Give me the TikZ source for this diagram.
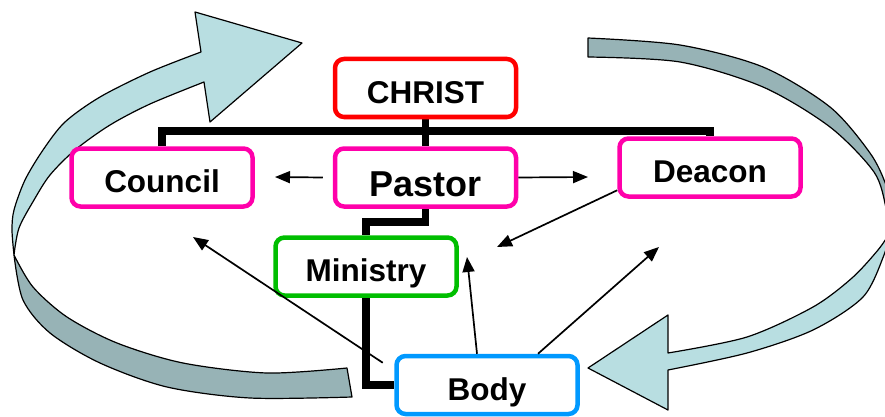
\documentclass[tikz,border=0pt]{standalone}
\usepackage{fontspec}
\setmainfont{Liberation Sans}
\usetikzlibrary{arrows.meta,backgrounds}
\definecolor{ribbonlight}{RGB}{184,222,225}
\definecolor{ribbondark}{RGB}{151,179,182}
\definecolor{boxred}{RGB}{255,0,0}
\definecolor{boxpink}{RGB}{255,0,170}
\definecolor{boxgreen}{RGB}{0,190,0}
\definecolor{boxblue}{RGB}{0,153,255}
\tikzset{
    rolebox/.style={draw, fill=white, rounded corners=9pt, line width=4.5pt,
        minimum width=181pt, minimum height=58pt, inner sep=0pt,
        text height=30pt, text depth=0pt,
        font=\bfseries\fontsize{31.5}{36}\selectfont},
    tree/.style={line width=7.5pt},
    link/.style={line width=1.7pt, -{Triangle[length=15pt,width=12pt]}},
    ribbon/.style={draw=black, line width=1.2pt, line join=round},
}
\begin{document}
\begin{tikzpicture}[x=1pt, y=-1pt]
            \clip (0,0) rectangle (885,417);
            % Defining the boxes
            \node[rolebox, draw=boxred] (christ) at (425.5,88) {CHRIST};
            \node[rolebox, draw=boxpink] (council) at (162,177.5) {Council};
            \node[rolebox, draw=boxpink, text height=38pt,
                font=\bfseries\fontsize{36}{40}\selectfont] (pastor) at (425.5,177.5) {Pastor};
            \node[rolebox, draw=boxpink] (deacon) at (710,167.5) {Deacon};
            \node[rolebox, draw=boxgreen] (ministry) at (366,266.5) {Ministry};
            \node[rolebox, draw=boxblue] (body) at (487,385) {Body};
            % Points the thin arrows run to
            \coordinate (toCouncil) at (275,177);
            \coordinate (toDeacon) at (588,177);
            \coordinate (deaconTip) at (497,247);
            \coordinate (bodyTipL) at (193,237);
            \coordinate (bodyTipM) at (467,257);
            \coordinate (bodyTipR) at (659,247);
            \coordinate (bar) at (426,131);
            \coordinate (split) at (366,222);
            \begin{scope}[on background layer]
                % Drawing the left ribbon
                \filldraw[ribbon, fill=ribbonlight]
                    plot[smooth] coordinates {(14,255) (12,230) (14,210) (25,180) (43,150) (65,122) (100,97) (150,72) (201,52)}
                    -- (195,12) -- (302,43) -- (210,122) -- (204,82)
                    -- plot[smooth] coordinates {(204,82) (150,104) (110,125) (75,150) (50,175) (34,200) (19,228) (14,255)}
                    -- cycle;
                \filldraw[ribbon, fill=ribbondark]
                    plot[smooth] coordinates {(14,255) (23,300) (50,333) (100,363) (167,387) (250,398) (352,397)}
                    -- (347,368)
                    -- plot[smooth] coordinates {(347,368) (267,373) (183,363) (117,343) (67,317) (33,287) (14,255)}
                    -- cycle;
                % Drawing the right ribbon
                \filldraw[ribbon, fill=ribbondark]
                    plot[smooth] coordinates {(588,38) (680,45) (763,67) (830,107) (870,153) (886,185) (892,212) (889,234)}
                    -- plot[smooth] coordinates {(889,234) (886,208) (874,172) (830,127) (763,87) (680,62) (588,57)}
                    -- cycle;
                \filldraw[ribbon, fill=ribbonlight]
                    plot[smooth] coordinates {(889,234) (884,255) (863,297) (813,330) (747,353) (668,370)}
                    -- (668,410) -- (588,368) -- (668,315) -- (668,353)
                    -- plot[smooth] coordinates {(668,353) (747,337) (813,307) (852,278) (878,250) (889,234)}
                    -- cycle;
                % Drawing the tree lines
                \draw[tree] (christ) -- (pastor);
                \draw[tree] (council.north) |- (bar) -| (deacon.north);
                \draw[tree] (pastor.south) |- (split) -- (ministry.north);
                \draw[tree] (ministry.south) |- (body.west);
            \end{scope}
            % Drawing the thin arrows
            \draw[link] ([xshift=-10pt]pastor.west) -- (toCouncil);
            \draw[link] (pastor.east) -- (toDeacon);
            \draw[link] ([yshift=8.5pt]deacon.south west) -- (deaconTip);
            \draw[link] ([shift={(-11.5pt,-9pt)}]body.north west) -- (bodyTipL);
            \draw[link] ([xshift=-10pt]body.north) -- (bodyTipM);
            \draw[link] ([xshift=51pt]body.north) -- (bodyTipR);
        \end{tikzpicture}
\end{document}
